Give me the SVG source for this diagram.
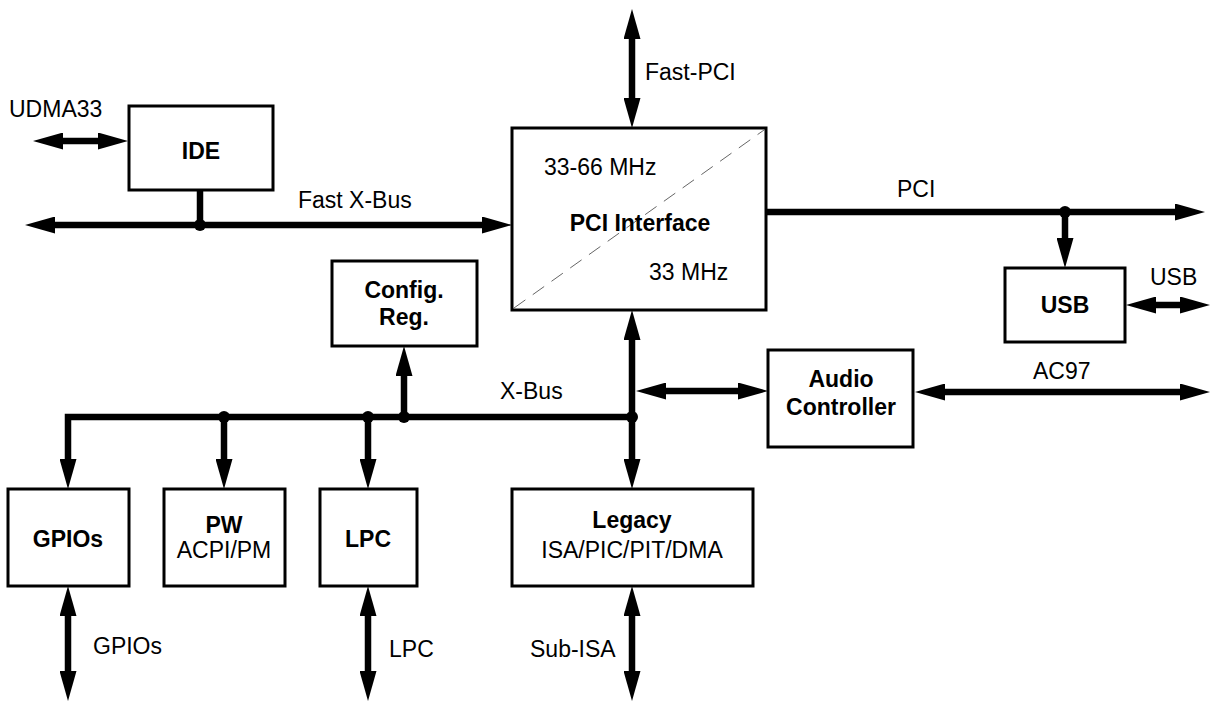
<svg xmlns="http://www.w3.org/2000/svg" width="1215" height="702" viewBox="0 0 1215 702">
<style>
  .box { fill: #fff; stroke: #000; stroke-width: 3; }
  .t { font-family: "Liberation Sans", Arial, sans-serif; font-size: 23px; fill: #000; }
  .b { font-weight: bold; }
  .m { text-anchor: middle; }
  .bus { fill: none; stroke: #000; stroke-width: 6.5; stroke-linejoin: miter; }
  .arr2 { marker-start: url(#ah); marker-end: url(#ah); }
  .arr1 { marker-end: url(#ah); }
  .dot { fill: #000; }
  .diag { stroke: #666; stroke-width: 1; stroke-dasharray: 14 9; fill: none; }
</style>
<defs>
  <marker id="ah" viewBox="0 0 30 17" refX="15" refY="8.5" markerWidth="30" markerHeight="17" markerUnits="userSpaceOnUse" orient="auto-start-reverse">
    <path d="M0,0 L30,8.5 L0,17 z" fill="#000"/>
  </marker>
</defs>
<rect width="1215" height="702" fill="#fff"/>

<g id="connectors">
  <path class="bus arr2" d="M48,141 H113"/>
  <path class="bus arr2" d="M40,225 H497"/>
  <path class="bus" d="M200,190 V225"/>
  <path class="bus arr2" d="M632,24 V113"/>
  <path class="bus arr1" d="M766,212 H1190"/>
  <path class="bus arr1" d="M1065,212 V253"/>
  <path class="bus arr2" d="M1141,305 H1195"/>
  <path class="bus arr2" d="M632,325 V474"/>
  <path class="bus arr2" d="M651,391 H753"/>
  <path class="bus arr2" d="M930,392 H1195"/>
  <path class="bus arr1" d="M632,417 H68 V474"/>
  <path class="bus arr1" d="M224,417 V474"/>
  <path class="bus arr1" d="M368,417 V474"/>
  <path class="bus arr1" d="M404,417 V361"/>
  <path class="bus arr2" d="M68,601 V686"/>
  <path class="bus arr2" d="M368,601 V686"/>
  <path class="bus arr2" d="M632,601 V686"/>
  <circle class="dot" cx="200" cy="225" r="6"/>
  <circle class="dot" cx="1065" cy="212" r="6"/>
  <circle class="dot" cx="632" cy="417" r="6"/>
  <circle class="dot" cx="224" cy="417" r="6"/>
  <circle class="dot" cx="368" cy="417" r="6"/>
  <circle class="dot" cx="404" cy="417" r="6"/>
  <text class="t" x="9" y="117">UDMA33</text>
  <text class="t" x="298" y="208">Fast X-Bus</text>
  <text class="t" x="645" y="80">Fast-PCI</text>
  <text class="t" x="897" y="197">PCI</text>
  <text class="t" x="1150" y="285">USB</text>
  <text class="t" x="500" y="399">X-Bus</text>
  <text class="t" x="1033" y="379">AC97</text>
  <text class="t" x="93" y="654">GPIOs</text>
  <text class="t" x="389" y="657">LPC</text>
  <text class="t" x="530" y="657">Sub-ISA</text>
</g>

<g id="ide">
  <rect class="box" x="129" y="106" width="144" height="84"/>
  <text class="t b m" x="201" y="159">IDE</text>
</g>

<g id="pci-interface">
  <rect class="box" x="512" y="128" width="254" height="182"/>
  <line class="diag" x1="514" y1="308" x2="764" y2="130"/>
  <text class="t" x="544" y="175">33-66 MHz</text>
  <text class="t b m" x="640" y="231">PCI Interface</text>
  <text class="t" x="649" y="280">33 MHz</text>
</g>

<g id="usb">
  <rect class="box" x="1005" y="268" width="120" height="74"/>
  <text class="t b m" x="1065" y="313">USB</text>
</g>

<g id="config-reg">
  <rect class="box" x="332" y="261" width="145" height="85"/>
  <text class="t b m" x="404" y="298">Config.</text>
  <text class="t b m" x="404" y="325">Reg.</text>
</g>

<g id="audio-controller">
  <rect class="box" x="768" y="350" width="145" height="97"/>
  <text class="t b m" x="841" y="387">Audio</text>
  <text class="t b m" x="841" y="415">Controller</text>
</g>

<g id="gpios">
  <rect class="box" x="8" y="489" width="121" height="97"/>
  <text class="t b m" x="68" y="547">GPIOs</text>
</g>

<g id="pw">
  <rect class="box" x="164" y="489" width="121" height="97"/>
  <text class="t b m" x="224" y="533">PW</text>
  <text class="t m" x="224" y="558">ACPI/PM</text>
</g>

<g id="lpc">
  <rect class="box" x="320" y="489" width="97" height="97"/>
  <text class="t b m" x="368" y="547">LPC</text>
</g>

<g id="legacy">
  <rect class="box" x="512" y="489" width="241" height="97"/>
  <text class="t b m" x="632" y="528">Legacy</text>
  <text class="t m" x="632" y="558">ISA/PIC/PIT/DMA</text>
</g>
</svg>
